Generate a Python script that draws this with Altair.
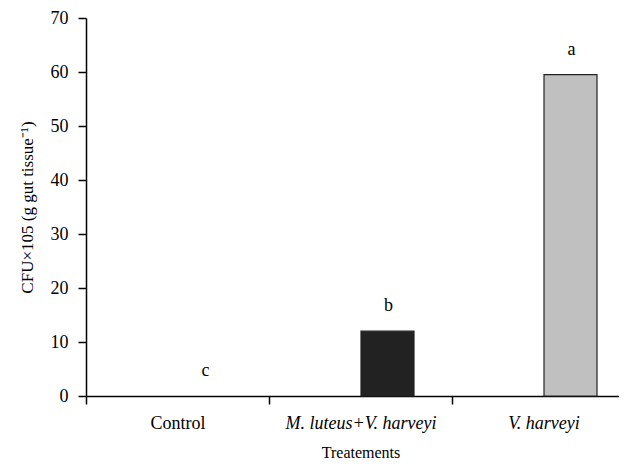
import altair as alt
import pandas as pd

categories = ["Control", "M. luteus+V. harveyi", "V. harveyi"]
values = [0, 12, 59.5]
letters = ["c", "b", "a"]
fills = ["#ffffff", "#222222", "#c0c0c0"]
y_ticks = [0, 10, 20, 30, 40, 50, 60, 70]

df = pd.DataFrame({"treatment": categories, "cfu": values,
                   "letter": letters, "fill": fills})

FONT = "Liberation Serif"
common_axis = dict(
    labelFont=FONT, titleFont=FONT, labelFontSize=18,
    labelColor="black", titleColor="black", titleFontWeight="normal",
    domainColor="black", tickColor="black", domainWidth=1.5, tickWidth=1.5,
    tickSize=8, grid=False,
)

x_enc = alt.X(
    "treatment:N", sort=categories, title="Treatements",
    scale=alt.Scale(paddingInner=0, paddingOuter=0),
    axis=alt.Axis(
        labelAngle=0, tickBand="extent", labelPadding=10, titlePadding=12,
        titleFontSize=16,
        labelFontStyle={"condition": {"test": "datum.value != 'Control'", "value": "italic"}, "value": "normal"},
        **common_axis,
    ),
)
y_enc = alt.Y(
    "cfu:Q", title="CFU×105 (g gut tissue⁻¹)",
    scale=alt.Scale(domain=[0, 70], nice=False),
    axis=alt.Axis(values=y_ticks, labelPadding=10, titlePadding=14,
                  titleFontSize=17, **common_axis),
)

bars = alt.Chart(df).mark_bar(width=53, xOffset=27, stroke="#222222", strokeWidth=1.2).encode(
    x=x_enc, y=y_enc, fill=alt.Fill("fill:N", scale=None)
).transform_filter("datum.cfu > 0")

text = alt.Chart(df).mark_text(xOffset=28, baseline="bottom", dy=-16, font=FONT,
                               fontSize=18, color="black").encode(
    x=x_enc, y=y_enc, text="letter:N"
)

chart = alt.layer(bars, text).properties(
    width=549, height=378,
    autosize=alt.AutoSizeParams(type="none"),
    padding={"left": 78, "top": 10, "right": -16, "bottom": 64},
    background="white",
).configure_view(stroke=None)

chart.save("out.html", embed_options={"renderer": "svg", "actions": False})
